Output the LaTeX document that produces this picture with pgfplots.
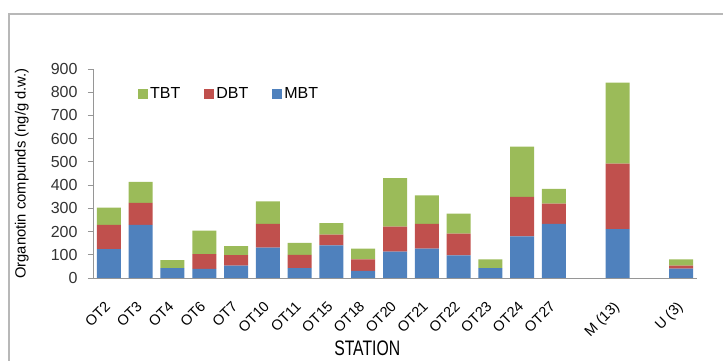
\documentclass[border=0pt]{standalone}
\usepackage{fontspec}
\setmainfont{Liberation Sans}
\usepackage{pgfplots}
\pgfplotsset{compat=1.18}

\definecolor{mbt}{RGB}{79,129,189}
\definecolor{dbt}{RGB}{192,80,77}
\definecolor{tbt}{RGB}{155,187,89}
\definecolor{axgray}{RGB}{150,150,150}

\begin{document}
\begin{tikzpicture}
% page frame like the spreadsheet chart area
\path[use as bounding box] (-93pt,-83pt) rectangle (630pt,278pt);
\draw[black!28, line width=1.5pt] (-84pt,-90pt) -- (-84pt,264pt) -- (640pt,264pt);
\begin{axis}[
    at={(0,0)}, anchor=south west,
    scale only axis,
    width=604pt, height=209pt,
    ybar stacked,
    bar width=24pt,
    xmin=-0.5, xmax=18.5,
    ymin=0, ymax=900,
    ytick={0,100,...,900},
    xtick={0,1,2,3,4,5,6,7,8,9,10,11,12,13,14,16,18},
    xticklabels={OT2,OT3,OT4,OT6,OT7,OT10,OT11,OT15,OT18,OT20,OT21,OT22,OT23,OT24,OT27,M (13),U (3)},
    major x tick style={draw=none},
    extra x ticks={-0.5,0.5,...,18.5},
    extra x tick labels={},
    extra x tick style={major tick length=5pt, tick style={axgray, line width=0.8pt}},
    axis x line*=bottom, axis y line*=left,
    axis line style={axgray, line width=0.8pt},
    y axis line style={-}, x axis line style={-},
    tick align=outside,
    major tick length=5pt,
    ytick style={axgray, line width=0.8pt},
    /pgf/number format/assume math mode=true,
    yticklabel style={font=\fontsize{16}{16}\selectfont, text=black!80, xshift=-7pt},
    xticklabel style={font=\fontsize{14.5}{14.5}\selectfont, xshift=-5pt, yshift=-17pt, rotate=45, anchor=north east, inner sep=0pt},
    ylabel={Organotin compunds (ng/g d.w.)},
    ylabel style={font=\fontsize{14.8}{14.8}\selectfont, at={(axis description cs:-0.118,0.5)}, anchor=center, rotate=0},
    xlabel={\scalebox{0.75}[1]{STATION}},
    xlabel style={font=\fontsize{21}{21}\selectfont, at={(axis description cs:0.454,-0.335)}, anchor=center},
    legend columns=3,
    reverse legend,
    legend style={at={(rel axis cs:0.0745,0.88)}, anchor=west, draw=none, fill=none,
        font=\fontsize{16}{16}\selectfont, inner sep=0pt,
        /tikz/every even column/.append style={column sep=22pt}},
    legend image code/.code={\fill[#1] (0pt,-5pt) rectangle (10pt,5pt);},
]
% MBT
\addplot[fill=mbt, draw=none] coordinates {
 (0,124) (1,229) (2,43) (3,39) (4,53) (5,131) (6,43) (7,140) (8,31)
 (9,114) (10,126) (11,97) (12,43) (13,179) (14,233) (16,211) (18,40)};
% DBT
\addplot[fill=dbt, draw=none] coordinates {
 (0,105) (1,95) (2,0) (3,64) (4,46) (5,102) (6,57) (7,47) (8,49)
 (9,107) (10,107) (11,94) (12,0) (13,170) (14,87) (16,282) (18,13)};
% TBT
\addplot[fill=tbt, draw=none] coordinates {
 (0,74) (1,90) (2,34) (3,101) (4,38) (5,97) (6,51) (7,49) (8,46)
 (9,209) (10,123) (11,86) (12,37) (13,217) (14,64) (16,348) (18,27)};
\legend{MBT,DBT,TBT}
\end{axis}
\end{tikzpicture}
\end{document}
